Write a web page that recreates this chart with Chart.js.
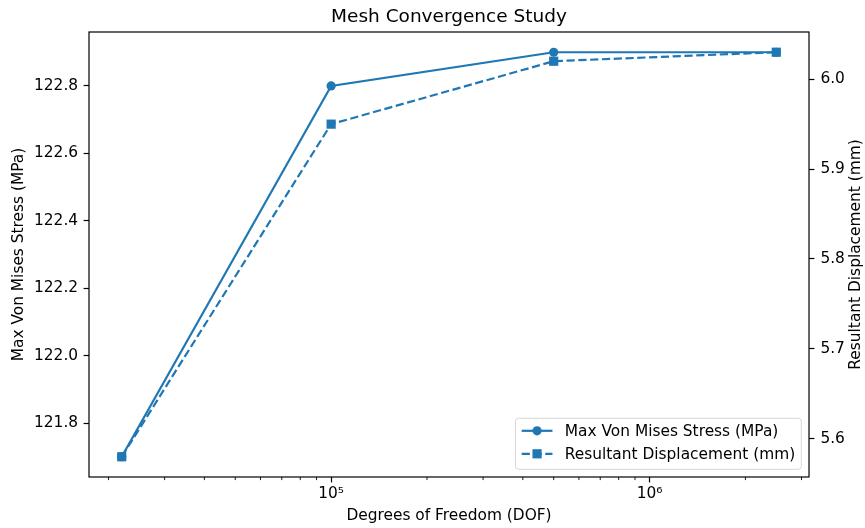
<!DOCTYPE html>
<html>
<head>
<meta charset="utf-8">
<script src="https://cdn.jsdelivr.net/npm/chart.js@4.4.1/dist/chart.umd.min.js"></script>
<style>
html,body{margin:0;padding:0;background:#fff;}
#wrap{width:865px;height:528px;position:relative;}
</style>
</head>
<body>
<div id="wrap"><canvas id="c" width="865" height="528"></canvas></div>
<script>
// ---- data ----
const dof = [22000, 100000, 500000, 2500000];
const stress = [121.7, 122.8, 122.9, 122.9];
const displacement = [5.58, 5.95, 6.02, 6.03];
const xMajorTicks = [1e5, 1e6];
const xTickLabels = ['10\u2075', '10\u2076'];
const stressTicks = [121.8, 122.0, 122.2, 122.4, 122.6, 122.8];
const dispTicks = [5.6, 5.7, 5.8, 5.9, 6.0];
const seriesLabels = ['Max Von Mises Stress (MPa)', 'Resultant Displacement (mm)'];
const titleText = 'Mesh Convergence Study';
const xTitle = 'Degrees of Freedom (DOF)';
const yTitle = 'Max Von Mises Stress (MPa)';
const y1Title = 'Resultant Displacement (mm)';

// ---- styling ----
const FAMILY = '"DejaVu Sans", sans-serif';
const FS = 15.4;
const BLUE = '#1f77b4';

function linLimits(arr){const lo=Math.min(...arr),hi=Math.max(...arr),s=hi-lo;return [lo-0.05*s,hi+0.05*s];}
function logLimits(arr){const l=arr.map(Math.log10);const lo=Math.min(...l),hi=Math.max(...l),s=hi-lo;return [10**(lo-0.05*s),10**(hi+0.05*s)];}
const [xMin,xMax]=logLimits(dof);
const [yMin,yMax]=linLimits(stress);
const [y1Min,y1Max]=linLimits(displacement);

const decor = {
  id:'decor',
  afterDraw(chart){
    const {ctx, chartArea:a, scales} = chart;
    ctx.save();
    // minor x ticks
    const xs = scales.x;
    ctx.strokeStyle='#000'; ctx.lineWidth=0.9;
    for(let e=Math.floor(Math.log10(xs.min)); e<=Math.ceil(Math.log10(xs.max)); e++){
      for(let m=2;m<=9;m++){
        const v=m*Math.pow(10,e);
        if(v<xs.min||v>xs.max) continue;
        const px=xs.getPixelForValue(v);
        ctx.beginPath(); ctx.moveTo(px,a.bottom); ctx.lineTo(px,a.bottom+3.1); ctx.stroke();
      }
    }
    // frame
    ctx.lineWidth=1.2; ctx.strokeStyle='#000';
    ctx.strokeRect(a.left, a.top, a.right-a.left, a.bottom-a.top);
    // right axis title (reads bottom-to-top)
    ctx.font = FS+'px '+FAMILY;
    ctx.fillStyle='#000';
    ctx.save();
    ctx.translate(856, (a.top+a.bottom)/2);
    ctx.rotate(-Math.PI/2);
    ctx.textAlign='center'; ctx.textBaseline='middle';
    ctx.fillText(y1Title,0,0);
    ctx.restore();
    // legend
    const ds = chart.data.datasets;
    const tw = Math.max(...ds.map(d=>ctx.measureText(d.label).width));
    const pad=0.4*FS, hl=2*FS, htp=0.8*FS, axpad=0.5*FS;
    const w = pad*2 + hl + htp + tw;
    const h = 51;
    const x1 = a.right - axpad, yb = a.bottom - axpad;
    const x0 = x1 - w, y0 = yb - h;
    ctx.beginPath();
    ctx.roundRect(x0,y0,w,h,3);
    ctx.fillStyle='rgba(255,255,255,0.8)'; ctx.fill();
    ctx.strokeStyle='rgba(204,204,204,0.8)'; ctx.lineWidth=1; ctx.stroke();
    ds.forEach((d,i)=>{
      const cy = y0 + 12.5 + i*23;
      const hx = x0 + pad;
      ctx.strokeStyle=d.borderColor; ctx.lineWidth=d.borderWidth;
      ctx.setLineDash(d.borderDash||[]);
      ctx.beginPath(); ctx.moveTo(hx,cy); ctx.lineTo(hx+hl,cy); ctx.stroke();
      ctx.setLineDash([]);
      ctx.fillStyle=d.backgroundColor;
      const mx=hx+hl/2;
      if(d.pointStyle==='rect'){
        const s=d.pointRadius*Math.SQRT1_2;
        ctx.fillRect(mx-s,cy-s,2*s,2*s);
      } else {
        ctx.beginPath(); ctx.arc(mx,cy,d.pointRadius,0,Math.PI*2); ctx.fill();
      }
      ctx.fillStyle='#000'; ctx.textBaseline='middle'; ctx.textAlign='left';
      ctx.fillText(d.label, hx+hl+htp, cy+1);
    });
    ctx.restore();
  }
};

const tickFont = {family:FAMILY, size:FS};
const gridOpts = {drawOnChartArea:false, drawTicks:true, tickLength:5.4, tickWidth:1.2, tickColor:'#000'};

new Chart(document.getElementById('c'), {
  type:'line',
  data:{
    datasets:[
      {label:seriesLabels[0], yAxisID:'y',
       data:dof.map((x,i)=>({x, y:stress[i]})),
       borderColor:BLUE, backgroundColor:BLUE, borderWidth:2.2,
       pointStyle:'circle', pointRadius:4.6, pointBorderWidth:0, pointHoverRadius:4.6, tension:0},
      {label:seriesLabels[1], yAxisID:'y1',
       data:dof.map((x,i)=>({x, y:displacement[i]})),
       borderColor:BLUE, backgroundColor:BLUE, borderWidth:2.2, borderDash:[8.2,3.6],
       pointStyle:'rect', pointRadius:6.5, pointBorderWidth:0, pointHoverRadius:6.5, tension:0}
    ]
  },
  options:{
    responsive:false, animation:false, devicePixelRatio:1,
    layout:{padding:0},
    plugins:{
      legend:{display:false},
      tooltip:{enabled:false},
      title:{display:true, text:titleText, fullSize:false, color:'#000',
             font:{family:FAMILY, size:18.5, weight:'normal'}, padding:{top:6,bottom:3.8}}
    },
    scales:{
      x:{type:'logarithmic', position:'bottom', min:xMin, max:xMax,
         afterBuildTicks:s=>{s.ticks=xMajorTicks.map(v=>({value:v}));},
         afterFit:s=>{s.height=51;},
         ticks:{callback:(v)=>{const i=xMajorTicks.indexOf(v);return i>=0?xTickLabels[i]:'';},
                font:tickFont, color:'#000', padding:2, maxRotation:0, autoSkip:false},
         grid:gridOpts, border:{display:false},
         title:{display:true, text:xTitle, color:'#000', font:tickFont, padding:{top:0,bottom:2.8}}},
      y:{type:'linear', position:'left', min:yMin, max:yMax,
         afterBuildTicks:s=>{s.ticks=stressTicks.map(v=>({value:v}));},
         afterFit:s=>{s.width=89;},
         ticks:{callback:v=>v.toFixed(1), font:tickFont, color:'#000', padding:5.5, autoSkip:false},
         grid:gridOpts, border:{display:false},
         title:{display:true, text:yTitle, color:'#000', font:tickFont, padding:{top:10,bottom:0}}},
      y1:{type:'linear', position:'right', min:y1Min, max:y1Max,
         afterBuildTicks:s=>{s.ticks=dispTicks.map(v=>({value:v}));},
         afterFit:s=>{s.width=56;},
         ticks:{callback:v=>v.toFixed(1), font:tickFont, color:'#000', padding:6, autoSkip:false},
         grid:gridOpts, border:{display:false}}
    }
  },
  plugins:[decor]
});
</script>
</body>
</html>
